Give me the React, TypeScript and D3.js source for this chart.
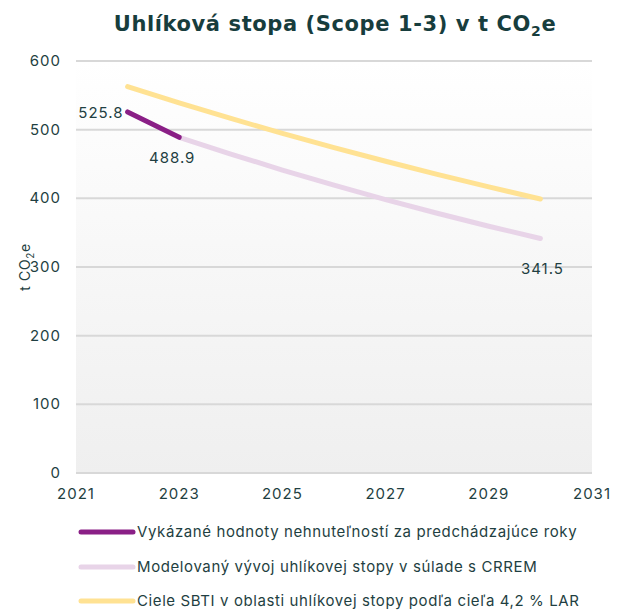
import React from "react";
import * as d3 from "d3";

const yearsReported = [2022, 2023];
const valuesReported = [525.8, 488.9];
const yearsCrrem = [2023, 2024, 2025, 2026, 2027, 2028, 2029, 2030];
const valuesCrrem = [488.9, 464.5, 441.2, 419.2, 398.2, 378.3, 359.4, 341.5];
const yearsSbti = [2022, 2023, 2024, 2025, 2026, 2027, 2028, 2029, 2030];
const valuesSbti = [562.6, 539.0, 516.3, 494.6, 473.9, 454.0, 434.9, 416.6, 399.1];
const xTicks = [2021, 2023, 2025, 2027, 2029, 2031];
const yTicks = [0, 100, 200, 300, 400, 500, 600];
const legendLabels = [
  "Vykázané hodnoty nehnuteľností za predchádzajúce roky",
  "Modelovaný vývoj uhlíkovej stopy v súlade s CRREM",
  "Ciele SBTI v oblasti uhlíkovej stopy podľa cieľa 4,2 % LAR",
];

const W = 625;
const H = 611;
const left = 76;
const right = 592;
const top = 61;
const bottom = 473;
const textColor = "#1f3f42";
const font = "Inter, 'Open Sans', sans-serif";
const ls = 0.6;
const cPurple = "#8a1f86";
const cLav = "#e8d4e8";
const cYellow = "#ffe293";

export default function App() {
  const x = d3.scaleLinear().domain([2021, 2031]).range([left, right]);
  const y = d3.scaleLinear().domain([0, 600]).range([bottom, top]);
  const line = d3
    .line<[number, number]>()
    .x((d) => x(d[0]))
    .y((d) => y(d[1]));
  const zip = (a: number[], b: number[]) => a.map((v, i) => [v, b[i]] as [number, number]);
  const series = [
    { pts: zip(yearsSbti, valuesSbti), color: cYellow },
    { pts: zip(yearsCrrem, valuesCrrem), color: cLav },
    { pts: zip(yearsReported, valuesReported), color: cPurple },
  ];
  const legendColors = [cPurple, cLav, cYellow];
  const legendY = [532, 567, 601];

  return (
    <svg
      width={W}
      height={H}
      style={{ position: "absolute", left: 0, top: 0, background: "#fff" }}
      fontFamily={font}
    >
      <defs>
        <linearGradient id="bg" x1="0" y1="0" x2="0" y2="1">
          <stop offset="0" stopColor="#ffffff" />
          <stop offset="1" stopColor="#efefef" />
        </linearGradient>
      </defs>
      <text
        x={335}
        y={31}
        textAnchor="middle"
        fontSize={21}
        fontWeight={700}
        fill="#173d3d"
        fontFamily="'DejaVu Sans', sans-serif"
        letterSpacing={0.6}
      >
        Uhlíková stopa (Scope 1-3) v t CO
        <tspan fontSize={14} dy={5}>2</tspan>
        <tspan dy={-5}>e</tspan>
      </text>
      <rect x={left} y={top} width={right - left} height={bottom - top} fill="url(#bg)" />
      {yTicks.map((t) => (
        <g key={t}>
          <line x1={left} x2={right} y1={y(t)} y2={y(t)} stroke="#d8d8d8" strokeWidth={2} />
          <text x={61} y={y(t) + 5} textAnchor="end" fontSize={15} fill={textColor} letterSpacing={1}>
            {t}
          </text>
        </g>
      ))}
      {xTicks.map((t) => (
        <text key={t} x={x(t)} y={499} textAnchor="middle" fontSize={15} fill={textColor} letterSpacing={1}>
          {t}
        </text>
      ))}
      <text
        transform={`translate(30, ${(top + bottom) / 2}) rotate(-90)`}
        textAnchor="middle"
        fontSize={14}
        fill={textColor}
        letterSpacing={ls}
      >
        t CO
        <tspan fontSize={10} dy={4}>2</tspan>
        <tspan dy={-4}>e</tspan>
      </text>
      {series.map((s, i) => (
        <path
          key={i}
          d={line(s.pts) || ""}
          fill="none"
          stroke={s.color}
          strokeWidth={5}
          strokeLinecap="round"
          strokeLinejoin="round"
        />
      ))}
      <text x={x(2022) - 4} y={y(valuesReported[0]) + 6} textAnchor="end" fontSize={15} fill={textColor} letterSpacing={1}>
        {valuesReported[0].toFixed(1)}
      </text>
      <text x={x(2023) - 7} y={y(valuesReported[1]) + 26} textAnchor="middle" fontSize={15} fill={textColor} letterSpacing={1}>
        {valuesReported[1].toFixed(1)}
      </text>
      <text
        x={x(2030) + 2}
        y={y(valuesCrrem[valuesCrrem.length - 1]) + 35}
        textAnchor="middle"
        fontSize={15}
        fill={textColor}
        letterSpacing={1}
      >
        {valuesCrrem[valuesCrrem.length - 1].toFixed(1)}
      </text>
      {legendLabels.map((l, i) => (
        <g key={i}>
          <line
            x1={81}
            x2={133}
            y1={legendY[i]}
            y2={legendY[i]}
            stroke={legendColors[i]}
            strokeWidth={5}
            strokeLinecap="round"
          />
          <text x={137} y={legendY[i] + 5} fontSize={15} fill={textColor} letterSpacing={ls}>
            {l}
          </text>
        </g>
      ))}
    </svg>
  );
}
